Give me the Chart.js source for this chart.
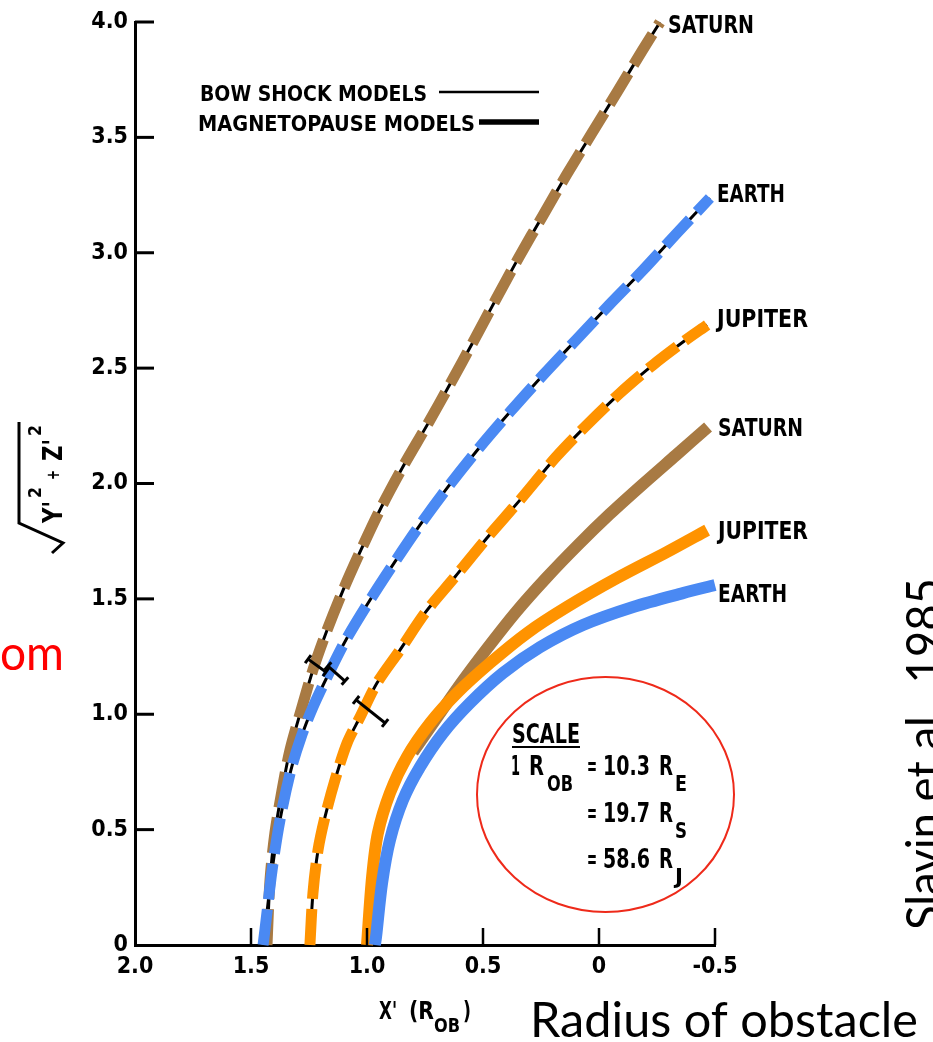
<!DOCTYPE html>
<html><head><meta charset="utf-8">
<script src="https://cdn.jsdelivr.net/npm/chart.js@4/dist/chart.umd.min.js"></script>
<style>html,body{margin:0;padding:0;background:#fff}#wrap{position:relative;width:933px;height:1042px}</style>
</head><body><div id="wrap"><canvas id="c" width="933" height="1042"></canvas></div>
<script>
// ---- axis ticks ----
const xTicks = [2.0, 1.5, 1.0, 0.5, 0, -0.5];
const xTickLabels = ['2.0', '1.5', '1.0', '0.5', '0', '-0.5'];
const yTicks = [0, 0.5, 1.0, 1.5, 2.0, 2.5, 3.0, 3.5, 4.0];
const yTickLabels = ['0', '0.5', '1.0', '1.5', '2.0', '2.5', '3.0', '3.5', '4.0'];

// ---- bow shock models (X', sqrt(Y'^2+Z'^2)) ----
const saturnBowX = [1.431, 1.418, 1.397, 1.366, 1.332, 1.284, 1.233, 1.172, 1.103, 1.026, 0.94, 0.841, 0.741, 0.642, 0.543, 0.444, 0.345, 0.241, 0.138, 0.03, -0.078, -0.185, -0.263];
const saturnBowY = [0, 0.282, 0.485, 0.672, 0.845, 1.018, 1.192, 1.365, 1.538, 1.712, 1.894, 2.08, 2.253, 2.431, 2.613, 2.799, 2.981, 3.163, 3.341, 3.519, 3.696, 3.874, 3.999];
const earthBowX = [1.448, 1.44, 1.409, 1.375, 1.328, 1.284, 1.233, 1.168, 1.091, 0.987, 0.875, 0.772, 0.651, 0.517, 0.384, 0.241, 0.099, -0.043, -0.19, -0.336, -0.478];
const earthBowY = [0, 0.065, 0.325, 0.542, 0.758, 0.901, 1.031, 1.17, 1.322, 1.495, 1.668, 1.82, 1.985, 2.154, 2.31, 2.47, 2.622, 2.773, 2.925, 3.085, 3.237];
const jupiterBowX = [1.246, 1.233, 1.211, 1.181, 1.138, 1.086, 1.03, 0.957, 0.858, 0.75, 0.621, 0.483, 0.341, 0.185, 0.052, -0.091, -0.233, -0.362, -0.466];
const jupiterBowY = [0, 0.225, 0.412, 0.555, 0.715, 0.875, 0.988, 1.135, 1.278, 1.439, 1.595, 1.764, 1.928, 2.115, 2.254, 2.392, 2.514, 2.613, 2.687];

// ---- magnetopause models ----
const saturnMpX = [0.802, 0.694, 0.591, 0.478, 0.358, 0.228, 0.091, -0.047, -0.19, -0.332, -0.47];
const saturnMpY = [0.836, 0.992, 1.14, 1.291, 1.443, 1.59, 1.733, 1.868, 1.998, 2.123, 2.245];
const jupiterMpX = [1.0, 0.978, 0.953, 0.901, 0.828, 0.728, 0.612, 0.47, 0.31, 0.138, -0.078, -0.293, -0.466];
const jupiterMpY = [0, 0.295, 0.485, 0.659, 0.815, 0.962, 1.092, 1.222, 1.352, 1.465, 1.59, 1.703, 1.798];
const earthMpX = [0.966, 0.961, 0.935, 0.901, 0.845, 0.772, 0.672, 0.556, 0.414, 0.254, 0.069, -0.147, -0.362, -0.5];
const earthMpY = [0, 0.035, 0.269, 0.455, 0.628, 0.771, 0.919, 1.049, 1.179, 1.291, 1.387, 1.465, 1.525, 1.56];

// ---- uncertainty bars on the bow shocks (ends) ----
const errX1 = [1.254, 1.168, 1.047];
const errY1 = [1.239, 1.209, 1.062];
const errX2 = [1.177, 1.095, 0.922];
const errY2 = [1.183, 1.144, 0.962];

const BROWN = '#A87A43', BLUE = '#4A89F3', ORANGE = '#FF9300';
const FONT_L = '"DejaVu Sans",sans-serif';
const FONT_S = 'Lato,"Open Sans",sans-serif';

function pts(xs, ys) { return xs.map((x, i) => ({ x: x, y: ys[i] })); }

function fitText(ctx, s, x, y, font, width, color) {
  ctx.save();
  ctx.font = font;
  ctx.fillStyle = color || '#000';
  ctx.textAlign = 'left';
  ctx.textBaseline = 'alphabetic';
  ctx.translate(x, y);
  if (width) { const w = ctx.measureText(s).width; ctx.scale(width / w, 1); }
  ctx.fillText(s, 0, 0);
  ctx.restore();
}
function seg(ctx, x1, y1, x2, y2) { ctx.beginPath(); ctx.moveTo(x1, y1); ctx.lineTo(x2, y2); ctx.stroke(); }

const bow = (data, color, order) => ({ data, showLine: true, pointRadius: 0, borderColor: color, borderWidth: 11, borderDash: [36, 10], borderCapStyle: 'butt', tension: 0.3, clip: false, order });
const under = (data, order) => ({ data, showLine: true, pointRadius: 0, borderColor: '#000', borderWidth: 3, tension: 0.3, clip: false, order });
const mp = (data, color, order) => ({ data, showLine: true, pointRadius: 0, borderColor: color, borderWidth: 12, borderCapStyle: 'butt', tension: 0.3, clip: false, order });

const decor = {
  id: 'decor',
  afterDatasetsDraw(chart) {
    const { ctx, chartArea: a, scales: { x, y } } = chart;
    ctx.save();
    ctx.strokeStyle = '#000'; ctx.lineCap = 'butt';
    ctx.lineWidth = 3;
    yTicks.forEach(v => { if (v === 0) return; const py = y.getPixelForValue(v); seg(ctx, a.left, py, a.left + 19, py); });
    ctx.lineWidth = 2.5;
    xTicks.forEach(v => { if (v === 2.0) return; const px = x.getPixelForValue(v); seg(ctx, px, a.bottom, px, a.bottom - 17); });
    ctx.lineWidth = 3;
    errX1.forEach((_, i) => {
      const p1x = x.getPixelForValue(errX1[i]), p1y = y.getPixelForValue(errY1[i]);
      const p2x = x.getPixelForValue(errX2[i]), p2y = y.getPixelForValue(errY2[i]);
      seg(ctx, p1x, p1y, p2x, p2y);
      const dx = p2x - p1x, dy = p2y - p1y, L = Math.hypot(dx, dy), nx = -dy / L * 5, ny = dx / L * 5;
      seg(ctx, p1x - nx, p1y - ny, p1x + nx, p1y + ny);
      seg(ctx, p2x - nx, p2y - ny, p2x + nx, p2y + ny);
    });
    ctx.restore();
  },
  afterDraw(chart) {
    const ctx = chart.ctx;
    ctx.save();
    // legend
    fitText(ctx, 'BOW SHOCK MODELS', 200, 101, 'bold 21px ' + FONT_L, 227);
    fitText(ctx, 'MAGNETOPAUSE MODELS', 198, 131, 'bold 21px ' + FONT_L, 277);
    ctx.strokeStyle = '#000';
    ctx.lineWidth = 2.5; seg(ctx, 439, 92, 539, 92);
    ctx.lineWidth = 5.5; seg(ctx, 479, 122, 539, 122);
    // curve labels
    const lf = 'bold 24px ' + FONT_L;
    fitText(ctx, 'SATURN', 668, 33, lf, 86);
    fitText(ctx, 'EARTH', 717, 202, lf, 68);
    fitText(ctx, 'JUPITER', 717, 327, lf, 91);
    fitText(ctx, 'SATURN', 718, 436, lf, 85);
    fitText(ctx, 'JUPITER', 718, 539, lf, 90);
    fitText(ctx, 'EARTH', 718, 602, lf, 69);
    // scale box
    ctx.strokeStyle = '#EE2A1A'; ctx.lineWidth = 2;
    ctx.beginPath(); ctx.ellipse(605.5, 794.5, 128.5, 117.5, 0, 0, Math.PI * 2); ctx.stroke();
    const sf = 'bold 27px ' + FONT_L, sub = 'bold 22px ' + FONT_L;
    fitText(ctx, 'SCALE', 512, 743, sf, 68);
    ctx.strokeStyle = '#000'; ctx.lineWidth = 2; seg(ctx, 512, 747, 580, 747);
    fitText(ctx, '1', 511, 775, sf, 9);
    fitText(ctx, 'R', 529, 775, sf, 15);
    fitText(ctx, 'OB', 547, 791, sub, 26);
    [['10.3', 'E', 775], ['19.7', 'S', 822], ['58.6', 'J', 868]].forEach(r => {
      fitText(ctx, '=', 587, r[2], sf, 10);
      fitText(ctx, r[0], 603, r[2], sf, 47);
      fitText(ctx, 'R', 659, r[2], sf, 14);
      fitText(ctx, r[1], 675, r[2] + 16, sub, r[1] === 'J' ? 8 : 12);
    });
    // x axis title
    fitText(ctx, "X'", 379, 1019, 'bold 24px ' + FONT_L, 18);
    fitText(ctx, '(R', 409, 1019, 'bold 24px ' + FONT_L, 25);
    fitText(ctx, 'OB', 434, 1032, 'bold 20px ' + FONT_L, 26);
    fitText(ctx, ')', 463, 1019, 'bold 24px ' + FONT_L, 8);
    // y axis title (rotated)
    ctx.save();
    ctx.translate(62, 523); ctx.rotate(-Math.PI / 2);
    fitText(ctx, "Y'", 0, 0, 'bold 27px ' + FONT_L, 22);
    fitText(ctx, '2', 25, -21, 'bold 18px ' + FONT_L, 11);
    fitText(ctx, '+', 43, -3, 'bold 17px ' + FONT_L, 10);
    fitText(ctx, "Z'", 62, 0, 'bold 27px ' + FONT_L, 22);
    fitText(ctx, '2', 87, -21, 'bold 18px ' + FONT_L, 11);
    ctx.restore();
    ctx.strokeStyle = '#000'; ctx.lineWidth = 3; ctx.lineJoin = 'miter';
    ctx.beginPath(); ctx.moveTo(19, 422); ctx.lineTo(19, 523); ctx.lineTo(63, 543); ctx.lineTo(52, 553); ctx.stroke();
    // slide annotations
    fitText(ctx, 'om', 0, 670, '48px ' + FONT_S, 64, '#FF0000');
    fitText(ctx, 'Radius of obstacle', 530, 1037, '48px ' + FONT_S, 388, '#000');
    ctx.save();
    ctx.translate(941, 930); ctx.rotate(-Math.PI / 2);
    fitText(ctx, 'Slavin et al., 1985', 0, 0, '48px ' + FONT_S, 352, '#000');
    ctx.restore();
    ctx.restore();
  }
};

const tickFont = { family: '"DejaVu Sans Condensed","DejaVu Sans",sans-serif', size: 23, weight: 'bold' };

new Chart(document.getElementById('c'), {
  type: 'scatter',
  data: {
    datasets: [
      under(pts(saturnBowX, saturnBowY), 20),
      under(pts(earthBowX, earthBowY), 19),
      under(pts(jupiterBowX, jupiterBowY), 18),
      bow(pts(saturnBowX, saturnBowY), BROWN, 12),
      bow(pts(earthBowX, earthBowY), BLUE, 11),
      bow(pts(jupiterBowX, jupiterBowY), ORANGE, 10),
      mp(pts(saturnMpX, saturnMpY), BROWN, 6),
      mp(pts(jupiterMpX, jupiterMpY), ORANGE, 5),
      mp(pts(earthMpX, earthMpY), BLUE, 4)
    ]
  },
  options: {
    responsive: false,
    animation: false,
    devicePixelRatio: 1,
    layout: { padding: { top: 22, right: 218, bottom: 0, left: 0 } },
    plugins: { legend: { display: false }, tooltip: { enabled: false } },
    scales: {
      x: {
        type: 'linear', reverse: true, min: -0.5, max: 2.0,
        afterBuildTicks: s => { s.ticks = xTicks.map(v => ({ value: v })); },
        afterFit: s => { s.height = 97; },
        ticks: { autoSkip: false, maxRotation: 0, padding: 8, color: '#000', font: tickFont,
          callback: v => xTickLabels[xTicks.indexOf(v)] },
        grid: { display: false, drawTicks: false },
        border: { display: true, color: '#000', width: 3 }
      },
      y: {
        type: 'linear', min: 0, max: 4.0,
        afterBuildTicks: s => { s.ticks = yTicks.map(v => ({ value: v })); },
        afterFit: s => { s.width = 135; },
        ticks: { autoSkip: false, padding: 7, color: '#000', font: tickFont,
          callback: v => yTickLabels[yTicks.indexOf(v)] },
        grid: { display: false, drawTicks: false },
        border: { display: true, color: '#000', width: 3 }
      }
    }
  },
  plugins: [decor]
});
</script>
</body></html>
